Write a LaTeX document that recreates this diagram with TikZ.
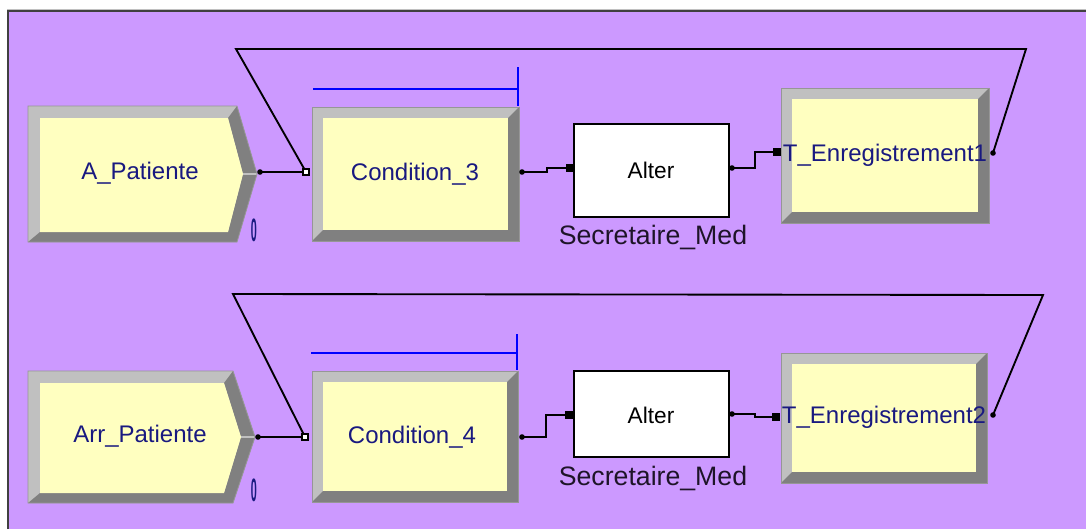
\documentclass[tikz,border=0pt]{standalone}
\usepackage{fontspec}
\newfontfamily\arial{Liberation Sans}
\usetikzlibrary{fit,calc}
\definecolor{bg}{RGB}{204,153,255}
\definecolor{yel}{RGB}{255,255,192}
\definecolor{lgray}{RGB}{192,192,192}
\definecolor{dgray}{RGB}{128,128,128}
\definecolor{edgec}{RGB}{150,150,150}
\definecolor{navy}{RGB}{25,25,128}
\definecolor{darklab}{RGB}{30,20,40}
\definecolor{barblue}{RGB}{0,0,255}
\tikzset{
  conn/.style={line width=1.4pt, black},
  modlab/.style={font=\arial\fontsize{18}{20}\selectfont, text=navy, inner sep=0pt},
  altlab/.style={font=\arial\fontsize{17}{19}\selectfont, text=black, inner sep=0pt},
  reslab/.style={font=\arial\fontsize{20}{22}\selectfont, text=darklab, inner sep=0pt},
  cntlab/.style={font=\arial\fontsize{18}{20}\selectfont, text=navy, inner sep=0pt},
  fitbox/.style={inner sep=0pt, outer sep=0pt},
  altbox/.style={draw=black, line width=1.3pt, fill=white},
  bar/.style={line width=1.5pt, barblue},
}
\newcommand\bevrect[5]{%
  \fill[lgray] (#1,#2) rectangle (#3,#4);
  \fill[dgray] (#3,#2) -- (#3,#4) -- (#1,#4) -- ({#1+#5},{#4-#5}) -- ({#3-#5},{#4-#5}) -- ({#3-#5},{#2+#5}) -- cycle;
  \fill[yel] ({#1+#5},{#2+#5}) rectangle ({#3-#5},{#4-#5});
  \draw[edgec, line width=0.6pt] (#1,#2) rectangle (#3,#4);
}
% x1 y1 x2 y2 xtip
\newcommand\bevarrow[5]{%
  \fill[lgray] (#1,#2) -- (#3,#2) -- (#5,{(#2+#4)/2}) -- (#3,#4) -- (#1,#4) -- cycle;
  \fill[dgray] (#3,#2) -- (#5,{(#2+#4)/2}) -- (#3,#4) -- (#1,#4) -- ({#1+12},{#4-10}) -- ({#3-9},{#4-10}) -- ({#5-14},{(#2+#4)/2}) -- ({#3-9},{#2+12}) -- cycle;
  \fill[yel] ({#1+12},{#2+12}) -- ({#3-9},{#2+12}) -- ({#5-14},{(#2+#4)/2}) -- ({#3-9},{#4-10}) -- ({#1+12},{#4-10}) -- cycle;
  \draw[lgray, line width=0.8pt] ({#5-14},{(#2+#4)/2}) -- (#5,{(#2+#4)/2});
  \draw[edgec, line width=0.6pt] (#1,#2) -- (#3,#2) -- (#5,{(#2+#4)/2}) -- (#3,#4) -- (#1,#4) -- cycle;
}
\newcommand\outmark[1]{\fill[black] (#1) circle (2.8);}
\newcommand\inmark[1]{\fill[black] ($(#1)+(-4,-4)$) rectangle ($(#1)+(4,4)$);}
\newcommand\holmark[1]{\filldraw[fill=white, draw=black, line width=0.9pt] ($(#1)+(-3,-3)$) rectangle ($(#1)+(3,3)$);}
\begin{document}
\begin{tikzpicture}[x=0.75pt,y=-0.75pt]
\useasboundingbox (0,0) rectangle (1086,529);
\fill[white] (0,0) rectangle (1086,529);
\fill[bg] (8,11) rectangle (1086,529);
\draw[lgray, line width=0.8pt] (7,9.5) -- (1086,9.5);
\draw[black!75, line width=1.5pt] (8,529) -- (8,11) -- (1086,11);

% ================= Row 1 =================
\bevarrow{28}{106}{237}{242}{257}
\path (28,106) coordinate (a1) (257,242) coordinate (a2);
\node[fitbox, fit=(a1)(a2)] (crA) {};
\node[modlab] (crAlab) at (140,173) {A\_Patiente};
\node[cntlab] (crAcnt) at (254,230) {\scalebox{0.45}[1.35]{\bfseries 0}};

\bevrect{312}{107}{519}{241}{11}
\path (312,107) coordinate (b1) (519,241) coordinate (b2);
\node[fitbox, fit=(b1)(b2)] (c3) {};
\node[modlab] (c3lab) at (415,174) {Condition\_3};
\coordinate (c3bar0) at (313,89);
\coordinate (c3bar1) at (518,89);
\coordinate (c3tick0) at (518,67);
\coordinate (c3tick1) at (518,106);
\draw[bar] (c3bar0) -- (c3bar1);
\draw[bar] (c3tick0) -- (c3tick1);

\node[altbox, minimum width=116.25pt, minimum height=69.75pt] (al1) at (651.5,170.5) {};
\node[altlab] (al1lab) at (651,170) {Alter};
\node[reslab] (res1) at (653,237) {Secretaire\_Med};

\bevrect{781}{88}{989}{223}{11}
\path (781,88) coordinate (d1) (989,223) coordinate (d2);
\node[fitbox, fit=(d1)(d2)] (t1) {};
\node[modlab] (t1lab) at (885,155) {T\_Enregistrement1};

% ports row 1
\coordinate (crAout) at (260,172);
\coordinate (c3in) at (306,172);
\coordinate (c3out) at (522,172);
\coordinate (al1in) at (570,168);
\coordinate (al1out) at (732,168);
\coordinate (t1in) at (777,152);
\coordinate (t1out) at (993,153);
\coordinate (lp1a) at (1026,49);
\coordinate (lp1b) at (236,49);

\draw[conn] (crAout) -- (c3in);
\draw[conn] (c3out) -- (547,172) -- (547,168) -- (al1in);
\draw[conn] (al1out) -- (755,168) -- (755,152) -- (t1in);
\draw[conn] (t1out) -- (lp1a) -- (lp1b) -- (c3in);
\outmark{crAout}
\holmark{c3in}
\outmark{c3out}
\inmark{al1in}
\outmark{al1out}
\inmark{t1in}
\outmark{t1out}

% ================= Row 2 =================
\bevarrow{28}{371}{233}{503}{255}
\path (28,371) coordinate (e1) (255,503) coordinate (e2);
\node[fitbox, fit=(e1)(e2)] (crB) {};
\node[modlab] (crBlab) at (140,436) {Arr\_Patiente};
\node[cntlab] (crBcnt) at (254,490) {\scalebox{0.45}[1.35]{\bfseries 0}};

\bevrect{312}{371}{518}{502}{11}
\path (312,371) coordinate (f1) (518,502) coordinate (f2);
\node[fitbox, fit=(f1)(f2)] (c4) {};
\node[modlab] (c4lab) at (412,437) {Condition\_4};
\coordinate (c4bar0) at (311,353);
\coordinate (c4bar1) at (517,353);
\coordinate (c4tick0) at (517,334);
\coordinate (c4tick1) at (517,370);
\draw[bar] (c4bar0) -- (c4bar1);
\draw[bar] (c4tick0) -- (c4tick1);

\node[altbox, minimum width=116.25pt, minimum height=64.5pt] (al2) at (651.5,414) {};
\node[altlab] (al2lab) at (651,415) {Alter};
\node[reslab] (res2) at (653,478) {Secretaire\_Med};

\bevrect{781}{353}{987}{483}{11}
\path (781,353) coordinate (g1) (987,483) coordinate (g2);
\node[fitbox, fit=(g1)(g2)] (t2) {};
\node[modlab] (t2lab) at (884,417) {T\_Enregistrement2};

% ports row 2
\coordinate (crBout) at (258,437);
\coordinate (c4in) at (305,437);
\coordinate (c4out) at (522,437);
\coordinate (al2in) at (569,415);
\coordinate (al2out) at (732,414);
\coordinate (t2in) at (776,417);
\coordinate (t2out) at (993,415);
\coordinate (lp2a) at (1043,295);
\coordinate (lp2b) at (233,294);

\draw[conn] (crBout) -- (c4in);
\draw[conn] (c4out) -- (546,437) -- (546,415) -- (al2in);
\draw[conn] (al2out) -- (755,414) -- (755,417) -- (t2in);
\draw[conn] (t2out) -- (lp2a) -- (lp2b) -- (c4in);
\outmark{crBout}
\holmark{c4in}
\outmark{c4out}
\inmark{al2in}
\outmark{al2out}
\inmark{t2in}
\outmark{t2out}
\end{tikzpicture}
\end{document}
